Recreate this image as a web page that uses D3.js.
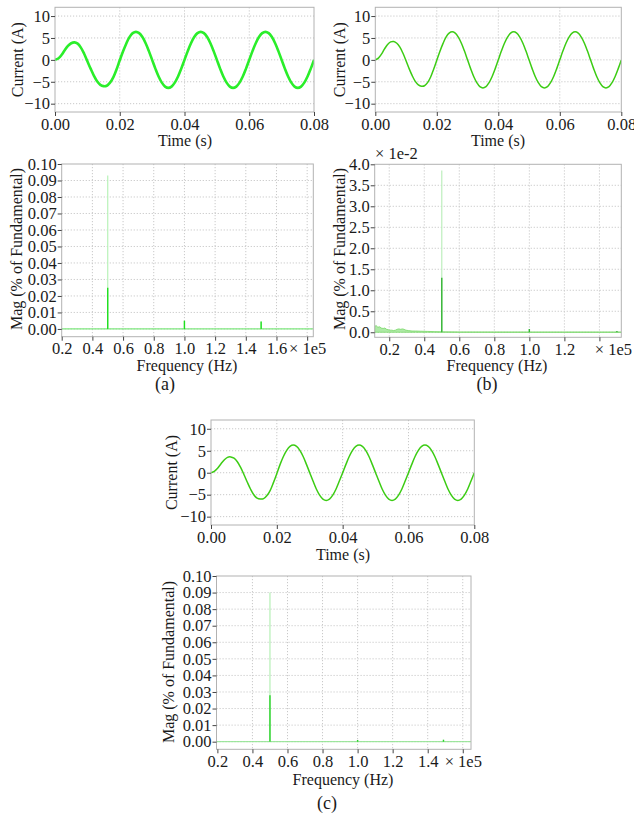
<!DOCTYPE html>
<html><head><meta charset="utf-8">
<script src="https://cdn.jsdelivr.net/npm/d3@7"></script>
<style>
body{margin:0;background:#fff}
</style></head><body>
<svg id="chart" width="634" height="814" font-family="'Liberation Serif', Tinos, 'Times New Roman', 'DejaVu Serif', serif"></svg>
<script>
// ---------- DATA ----------
// time samples (ms)
const timeMs = [0,1,2,3,4,5,6,7,8,9,10,11,12,13,14,15,16,17,18,19,20,
  21,22,23,24,25,26,27,28,29,30,31,32,33,34,35,36,37,38,39,40,
  41,42,43,44,45,46,47,48,49,50,51,52,53,54,55,56,57,58,59,60,
  61,62,63,64,65,66,67,68,69,70,71,72,73,74,75,76,77,78,79,80];
const currentA = [0,0.3,1.1,2.2,3.2,3.8,4.0,3.7,2.8,1.4,-0.3,-2.0,-3.6,-4.9,-5.7,-6.0,-5.9,-5.2,-4.0,-2.2,-0.1,
  1.9,3.7,5.2,6.1,6.4,6.1,5.2,3.8,2.0,0.0,-2.0,-3.8,-5.2,-6.1,-6.4,-6.1,-5.2,-3.8,-2.0,
  0.0,2.0,3.8,5.2,6.1,6.4,6.1,5.2,3.8,2.0,0.0,-2.0,-3.8,-5.2,-6.1,-6.4,-6.1,-5.2,-3.8,-2.0,
  0.0,2.0,3.8,5.2,6.1,6.4,6.1,5.2,3.8,2.0,0.0,-2.0,-3.8,-5.2,-6.1,-6.4,-6.1,-5.2,-3.8,-2.0,0.0];
const currentB = [0,0.4,1.3,2.5,3.5,4.1,4.2,3.8,2.9,1.5,-0.2,-2.0,-3.6,-4.9,-5.7,-6.0,-5.9,-5.2,-3.9,-2.1,-0.1,
  1.9,3.7,5.2,6.1,6.4,6.1,5.2,3.8,2.0,0.0,-2.0,-3.8,-5.2,-6.1,-6.4,-6.1,-5.2,-3.8,-2.0,
  0.0,2.0,3.8,5.2,6.1,6.4,6.1,5.2,3.8,2.0,0.0,-2.0,-3.8,-5.2,-6.1,-6.4,-6.1,-5.2,-3.8,-2.0,
  0.0,2.0,3.8,5.2,6.1,6.4,6.1,5.2,3.8,2.0,0.0,-2.0,-3.8,-5.2,-6.1,-6.4,-6.1,-5.2,-3.8,-2.0,0.0];
const currentC = [0,0.3,1.0,2.0,2.9,3.5,3.6,3.3,2.5,1.2,-0.4,-2.1,-3.7,-5.0,-5.8,-6.0,-5.9,-5.2,-4.0,-2.2,-0.2,
  1.9,3.7,5.1,6.0,6.3,6.0,5.1,3.7,1.9,0.0,-1.9,-3.7,-5.1,-6.0,-6.3,-6.0,-5.1,-3.7,-1.9,
  0.0,1.9,3.7,5.1,6.0,6.3,6.0,5.1,3.7,1.9,0.0,-1.9,-3.7,-5.1,-6.0,-6.3,-6.0,-5.1,-3.7,-1.9,
  0.0,1.9,3.7,5.1,6.0,6.3,6.0,5.1,3.7,1.9,0.0,-1.9,-3.7,-5.1,-6.0,-6.3,-6.0,-5.1,-3.7,-1.9,0.0];

const timeTicks = [0, 0.02, 0.04, 0.06, 0.08];
const currentTicks = [-10, -5, 0, 5, 10];

// spectra (frequency in units of 1e5 Hz)
const spikeFreqA = [0.5, 1.0, 1.5];
const spikeMagA  = [0.093, 0.005, 0.0045];   // full spike height
const spikeCoreA = [0.025, 0.005, 0.0045];   // bright lower part
const spikeFreqB = [0.5, 1.0, 1.5];
const spikeMagB  = [3.85, 0.08, 0.03];       // x 1e-2
const spikeCoreB = [1.3, 0.08, 0.03];
const noiseFreqB = [0.117,0.125,0.135,0.145,0.155,0.165,0.175,0.185,0.195,0.205,0.215,0.225,0.235,0.245,0.255,0.265,0.275,0.285,0.295,0.31,0.33,0.35,0.38,0.42,0.46,0.5,0.6,0.8,1.0,1.2,1.4,1.525];
const noiseMagB  = [0.14,0.16,0.12,0.13,0.10,0.09,0.10,0.07,0.06,0.05,0.05,0.04,0.05,0.07,0.08,0.07,0.08,0.07,0.05,0.04,0.03,0.03,0.025,0.02,0.015,0.01,0.006,0.005,0.004,0.004,0.004,0.004];
const spikeFreqC = [0.5, 1.0, 1.49];
const spikeMagC  = [0.090, 0.001, 0.0012];
const spikeCoreC = [0.028, 0.001, 0.0012];

const magTicksAC = [0,0.01,0.02,0.03,0.04,0.05,0.06,0.07,0.08,0.09,0.10];
const magTicksB  = [0,0.5,1.0,1.5,2.0,2.5,3.0,3.5,4.0];
const freqTicksA = [0.2,0.4,0.6,0.8,1.0,1.2,1.4,1.6,1.8];
const freqTicksB = [0.2,0.4,0.6,0.8,1.0,1.2,1.4];
const freqTicksC = [0.2,0.4,0.6,0.8,1.0,1.2,1.4,1.6];

// ---------- DRAWING ----------
const FONT = "'Liberation Serif', Tinos, 'Times New Roman', 'DejaVu Serif', serif";
const svg = d3.select("#chart");
const FS = 16.5;

function txt(sel, size){
  return sel.attr("font-family",FONT).style("font-family",FONT).attr("font-size",size).style("font-size",size+"px").attr("fill","#1a1a1a");
}

function panel(cfg){
  const g = svg.append("g");
  const x = d3.scaleLinear().domain(cfg.xDom).range([cfg.left, cfg.right]);
  const y = d3.scaleLinear().domain(cfg.yDom).range([cfg.bottom, cfg.top]);
  const grid = g.append("g").attr("stroke","#c9c9c9").attr("stroke-dasharray","1.2,1.8").attr("stroke-width",1);
  cfg.xTicks.forEach(t=>{ if(x(t)>cfg.left+1 && x(t)<cfg.right-1)
    grid.append("line").attr("x1",x(t)).attr("x2",x(t)).attr("y1",cfg.top).attr("y2",cfg.bottom);});
  cfg.yTicks.forEach(t=>{ if(y(t)>cfg.top+1 && y(t)<cfg.bottom-1)
    grid.append("line").attr("x1",cfg.left).attr("x2",cfg.right).attr("y1",y(t)).attr("y2",y(t));});
  const cid = "clip"+cfg.id;
  svg.append("clipPath").attr("id",cid).append("rect")
    .attr("x",cfg.left).attr("y",cfg.top).attr("width",cfg.right-cfg.left).attr("height",cfg.bottom-cfg.top);
  const plot = g.append("g").attr("clip-path",`url(#${cid})`);
  cfg.draw(plot, x, y);
  g.append("rect").attr("x",cfg.left).attr("y",cfg.top).attr("width",cfg.right-cfg.left)
    .attr("height",cfg.bottom-cfg.top).attr("fill","none").attr("stroke","#b2b2b2").attr("stroke-width",1);
  const xa = g.append("g").attr("transform",`translate(0,${cfg.bottom})`)
    .call(d3.axisBottom(x).tickValues(cfg.xTicks).tickSize(4).tickPadding(2).tickFormat(cfg.xFmt));
  const ya = g.append("g").attr("transform",`translate(${cfg.left},0)`)
    .call(d3.axisLeft(y).tickValues(cfg.yTicks).tickSize(4).tickPadding(1).tickFormat(cfg.yFmt));
  [xa,ya].forEach(a=>{
    a.attr("font-family",FONT).attr("font-size",FS);
    a.select(".domain").remove();
    a.selectAll(".tick line").attr("stroke","#444");
    txt(a.selectAll("text"), FS);
  });
  txt(g.append("text").attr("x",cfg.xTitleX).attr("y",cfg.xTitleY).attr("text-anchor","middle"),16).text(cfg.xTitle);
  txt(g.append("text").attr("transform",`translate(${cfg.yTitleX},${cfg.yTitleY}) rotate(-90)`)
    .attr("text-anchor","middle").attr("dominant-baseline","central"),16).text(cfg.yTitle);
  return {x,y,g};
}

const fmt2 = d3.format(".2f");
const fmt1 = d3.format(".1f");

function timePanel(id,left,right,top,bottom,vals,color,width,xTX,xTY,yTX){
  const pts = timeMs.map((t,i)=>[t/1000, vals[i]]);
  panel({id,left,right,top,bottom,xDom:[0,0.08],yDom:[-11.9,12.0],
    xTicks:timeTicks,yTicks:currentTicks,xFmt:fmt2,yFmt:d3.format("d"),
    xTitle:"Time (s)",xTitleX:xTX,xTitleY:xTY,yTitle:"Current (A)",yTitleX:yTX,yTitleY:(top+bottom)/2,
    draw:(p,x,y)=>{
      p.append("path").datum(pts).attr("fill","none").attr("stroke",color).attr("stroke-width",width)
        .attr("stroke-linejoin","round")
        .attr("d",d3.line().x(d=>x(d[0])).y(d=>y(d[1])).curve(d3.curveCatmullRom));
    }});
}

timePanel("t1",55,314,7.3,112,currentA,"#2aee2a",2.6,185,146,17.5);
timePanel("t2",375.3,621.3,7.3,112,currentB,"#3ccc14",1.5,498,146,339);
timePanel("t3",211,474.3,420,525,currentC,"#3ccc14",1.5,343,560,171);

function spikes(p,x,y,freq,mag,core,light,bright){
  freq.forEach((f,i)=>{
    p.append("line").attr("x1",x(f)).attr("x2",x(f)).attr("y1",y(0)).attr("y2",y(mag[i]))
      .attr("stroke",light).attr("stroke-width",1.2);
    p.append("line").attr("x1",x(f)).attr("x2",x(f)).attr("y1",y(0)).attr("y2",y(core[i]))
      .attr("stroke",bright).attr("stroke-width",1.4);
  });
}

panel({id:"f1",left:61.7,right:313.3,top:164,bottom:336.7,xDom:[0.2,1.84],yDom:[-0.0047,0.1],
  xTicks:freqTicksA,yTicks:magTicksAC,
  xFmt:d=>d===1.8?"× 1e5":fmt1(d), yFmt:fmt2,
  xTitle:"Frequency (Hz)",xTitleX:187,xTitleY:371,yTitle:"Mag (% of Fundamental)",yTitleX:16,yTitleY:249,
  draw:(p,x,y)=>{
    p.append("line").attr("x1",x(0.2)).attr("x2",x(1.84)).attr("y1",y(0)).attr("y2",y(0))
      .attr("stroke","#7fe87f").attr("stroke-width",1.2);
    spikes(p,x,y,spikeFreqA,spikeMagA,spikeCoreA,"#b9f3b9","#1ee01e");
  }});

panel({id:"f2",left:374.7,right:621.3,top:164.3,bottom:337.3,xDom:[0.117,1.525],yDom:[-0.12,4.0],
  xTicks:freqTicksB,yTicks:magTicksB,
  xFmt:d=>d===1.4?"":fmt1(d), yFmt:fmt1,
  xTitle:"Frequency (Hz)",xTitleX:497,xTitleY:371,yTitle:"Mag (% of Fundamental)",yTitleX:339,yTitleY:249,
  draw:(p,x,y)=>{
    const pts = noiseFreqB.map((f,i)=>[f,noiseMagB[i]]);
    p.append("path").datum(pts).attr("fill","#aeeaa6").attr("stroke","#78d868").attr("stroke-width",0.8)
      .attr("d",d3.area().x(d=>x(d[0])).y0(y(0)).y1(d=>y(d[1])));
    spikes(p,x,y,spikeFreqB,spikeMagB,spikeCoreB,"#bdeebd","#34b434");
  }});
txt(svg.append("text").attr("x",632).attr("y",355).attr("text-anchor","end"),FS).text("× 1e5");
txt(svg.append("text").attr("x",375).attr("y",159),FS).text("× 1e-2");

panel({id:"f3",left:216.5,right:471,top:576,bottom:749.3,xDom:[0.195,1.647],yDom:[-0.0046,0.1],
  xTicks:freqTicksC,yTicks:magTicksAC,
  xFmt:d=>d===1.6?"× 1e5":fmt1(d), yFmt:fmt2,
  xTitle:"Frequency (Hz)",xTitleX:343,xTitleY:785,yTitle:"Mag (% of Fundamental)",yTitleX:168,yTitleY:662,
  draw:(p,x,y)=>{
    p.append("line").attr("x1",x(0.195)).attr("x2",x(1.647)).attr("y1",y(0)).attr("y2",y(0))
      .attr("stroke","#8ee48e").attr("stroke-width",1);
    spikes(p,x,y,spikeFreqC,spikeMagC,spikeCoreC,"#b5efb5","#28d228");
  }});

txt(svg.append("text").attr("x",165).attr("y",390).attr("text-anchor","middle"),18).text("(a)");
txt(svg.append("text").attr("x",487).attr("y",390).attr("text-anchor","middle"),18).text("(b)");
txt(svg.append("text").attr("x",327).attr("y",809).attr("text-anchor","middle"),18).text("(c)");
</script>
</body></html>
